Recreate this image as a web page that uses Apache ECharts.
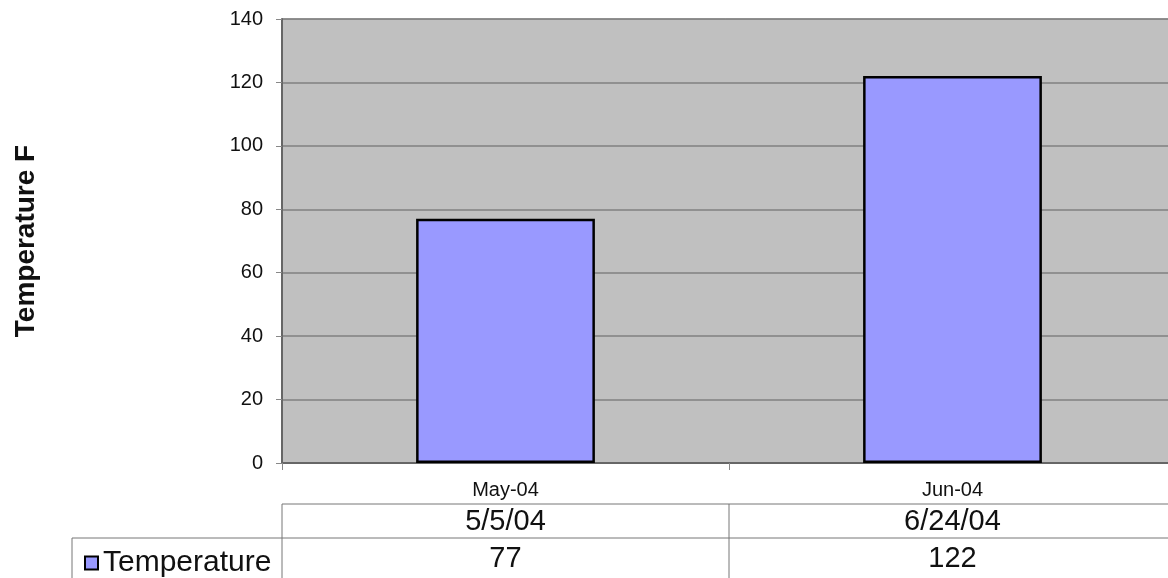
<!DOCTYPE html>
<html><head><meta charset="utf-8">
<script src="https://cdn.jsdelivr.net/npm/echarts@6/dist/echarts.min.js"></script>
<style>html,body{margin:0;padding:0;background:#fff}#c{width:1168px;height:578px}</style>
</head><body><div id="c"></div>
<script>
const categories = ['May-04', 'Jun-04'];
const dateLabels = ['5/5/04', '6/24/04'];
const seriesName = 'Temperature';
const values = [77, 122];
const yTicks = { min: 0, max: 140, interval: 20 };

const FONT = 'Liberation Sans, Arial, sans-serif';
const chart = echarts.init(document.getElementById('c'), null, { renderer: 'canvas' });
const gridL = 282, gridT = 19, gridH = 444, gridW = 894;

chart.setOption({
  animation: false,
  textStyle: { fontFamily: FONT },
  grid: { left: gridL, top: gridT, height: gridH, width: gridW, show: true,
    outerBoundsMode: 'none', containLabel: false,
    backgroundColor: '#C0C0C0', borderColor: '#808080', borderWidth: 1 },
  legend: { left: 79, top: 543, icon: 'rect', itemWidth: 13, itemHeight: 13, itemGap: 6,
    textStyle: { fontSize: 30, color: '#111', fontFamily: FONT }, data: [seriesName],
    selectedMode: false },
  xAxis: {
    type: 'category', data: categories,
    axisLine: { lineStyle: { color: '#666', width: 2 } },
    axisTick: { show: true, length: 7, lineStyle: { color: '#888' } },
    axisLabel: { fontSize: 20, color: '#111', margin: 17 },
    splitLine: { show: false }
  },
  yAxis: {
    type: 'value', min: yTicks.min, max: yTicks.max, interval: yTicks.interval,
    name: 'Temperature F', nameLocation: 'middle', nameGap: 242, nameRotate: 90,
    nameTextStyle: { fontSize: 28, fontWeight: 'bold', color: '#111', fontFamily: FONT },
    axisLine: { show: true, lineStyle: { color: '#666', width: 2 } },
    axisTick: { show: true, length: 6, lineStyle: { color: '#888' } },
    axisLabel: { fontSize: 20, color: '#111', margin: 19 },
    splitLine: { lineStyle: { color: '#808080', width: 1.5 } }
  },
  series: [{
    name: seriesName, type: 'bar', data: values, barWidth: '40%',
    itemStyle: { color: '#9999FF', borderColor: '#000', borderWidth: 2.5 }
  }]
});

// data table below the chart, built from the arrays
const W = 1168;
const rowTop = 504, rowMid = 538, rowBot = 578;
const els = [];
const lineStyle = { stroke: '#777', lineWidth: 1 };
els.push({ type: 'line', shape: { x1: gridL, y1: rowTop, x2: W, y2: rowTop }, style: lineStyle });
els.push({ type: 'line', shape: { x1: 72, y1: rowMid, x2: W, y2: rowMid }, style: lineStyle });
els.push({ type: 'line', shape: { x1: 72, y1: rowMid, x2: 72, y2: rowBot }, style: lineStyle });
els.push({ type: 'line', shape: { x1: gridL, y1: rowTop, x2: gridL, y2: rowBot }, style: lineStyle });
const xs = categories.map(c => chart.convertToPixel({ xAxisIndex: 0 }, c));
const half = xs.length > 1 ? (xs[1] - xs[0]) / 2 : 200;
for (let i = 1; i < xs.length; i++) {
  const bx = xs[i] - half;
  els.push({ type: 'line', shape: { x1: bx, y1: rowTop, x2: bx, y2: rowBot }, style: lineStyle });
}
xs.forEach((x, i) => {
  els.push({ type: 'text', x: x, y: (rowTop + rowMid) / 2 + 1,
    style: { text: dateLabels[i], fontSize: 29, fontFamily: FONT, fill: '#111', align: 'center', verticalAlign: 'middle' } });
  els.push({ type: 'text', x: x, y: (rowMid + rowBot) / 2 + 1,
    style: { text: String(values[i]), fontSize: 29, fontFamily: FONT, fill: '#111', align: 'center', verticalAlign: 'middle' } });
});
chart.setOption({ graphic: { elements: els } });
</script></body></html>
